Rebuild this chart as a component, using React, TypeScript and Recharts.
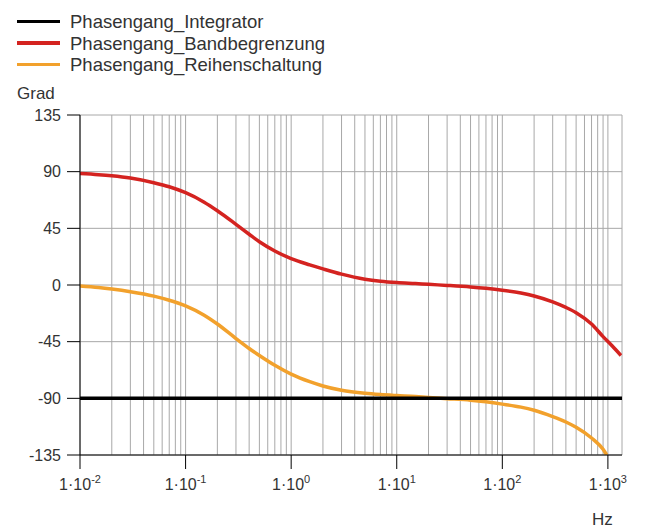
import { LineChart, Line, XAxis, YAxis, CartesianGrid, ReferenceLine } from 'recharts';

// Frequenzen (Hz) und Phasenwerte (Grad)
const freqBand = [0.01, 0.015, 0.02, 0.03, 0.05, 0.07, 0.1, 0.15, 0.2, 0.3, 0.4, 0.5, 0.7, 1, 1.5, 2, 3, 5, 7, 10, 15, 20, 30, 50, 70, 100, 150, 200, 300, 400, 500, 700, 900, 1100, 1330];
const phaseBand = [88.5, 87.6, 86.7, 84.9, 81.2, 78, 73.3, 65.8, 59, 48.2, 40.3, 34.3, 27, 21, 16, 12.8, 8.6, 4.6, 3, 1.9, 1.1, 0.5, -0.3, -1.5, -2.6, -4.1, -6.4, -8.7, -13.4, -17.8, -22, -31, -41, -48.5, -56];

const freqReihe = [0.01, 0.015, 0.02, 0.03, 0.05, 0.07, 0.1, 0.15, 0.2, 0.3, 0.4, 0.5, 0.7, 1, 1.5, 2, 3, 5, 7, 10, 15, 20, 30, 50, 70, 100, 150, 200, 300, 400, 500, 700, 900, 975];
const phaseReihe = [-0.8, -2, -3.2, -5.3, -8.8, -12.1, -16.6, -24, -31, -42.5, -50.4, -56, -63.8, -70.8, -76.8, -80.2, -83.6, -86, -87, -87.8, -88.6, -89.4, -90.3, -91.5, -92.8, -94.6, -97, -99.5, -104.5, -108.8, -113, -121.5, -130.5, -135];

const freqInt = [0.01, 1360];
const phaseInt = [-90, -90];

const seriesNames = ['Phasengang_Integrator', 'Phasengang_Bandbegrenzung', 'Phasengang_Reihenschaltung'];
const seriesColors = ['#000000', '#d42320', '#f2a12c'];

const xTicks = [0.01, 0.1, 1, 10, 100, 1000];
const xTickExp = ['-2', '-1', '0', '1', '2', '3'];
const yTicks = [-135, -90, -45, 0, 45, 90, 135];

const xDomain = [0.01, 1360];
const yDomain = [-135, 135];

const toRows = (fs: number[], ys: number[]) => fs.map((f, i) => ({ f, y: ys[i] }));
const bandData = toRows(freqBand, phaseBand);
const reiheData = toRows(freqReihe, phaseReihe);
const intData = toRows(freqInt, phaseInt);

// log-Gitter: 1..9 je Dekade plus rechter Rand
const gridFreqs: number[] = [];
for (let d = -2; d <= 2; d++) {
  for (let k = 1; k <= 9; k++) gridFreqs.push(Number((k * Math.pow(10, d)).toPrecision(3)));
}
gridFreqs.push(1000, xDomain[1]);

const FONT = '"Liberation Sans", Arial, sans-serif';
const TEXT = '#333';

function FreqTick(props: any) {
  const { x, y, payload } = props;
  const i = xTicks.indexOf(payload.value);
  return (
    <text x={x} y={y + 19} textAnchor="middle" fontFamily={FONT} fontSize={16} fill={TEXT}>
      1·10
      <tspan dy={-7} fontSize={11}>{xTickExp[i]}</tspan>
    </text>
  );
}

export default function App() {
  return (
    <div style={{ position: 'absolute', left: 0, top: 0, width: 648, height: 529, background: '#fff', fontFamily: FONT }}>
      <LineChart width={648} height={529} margin={{ top: 115, right: 26, left: 0, bottom: 0 }}>
        {gridFreqs.map((v) => (
          <ReferenceLine key={v} x={v} stroke="#a8a8a8" strokeWidth={1} />
        ))}
        <CartesianGrid vertical={false} stroke="#a8a8a8" strokeDasharray="" />
        <XAxis
          dataKey="f"
          type="number"
          scale="log"
          domain={xDomain}
          allowDataOverflow
          ticks={xTicks}
          interval={0}
          tick={<FreqTick />}
          tickSize={14}
          height={74}
          axisLine={{ stroke: '#000' }}
          tickLine={{ stroke: '#000' }}
        />
        <YAxis
          type="number"
          domain={yDomain}
          allowDataOverflow
          ticks={yTicks}
          interval={0}
          width={80}
          tickSize={13}
          tickMargin={6}
          tick={{ fontFamily: FONT, fontSize: 16, fill: TEXT }}
          axisLine={{ stroke: '#000' }}
          tickLine={{ stroke: '#000' }}
        />
        <Line data={reiheData} dataKey="y" type="monotone" stroke={seriesColors[2]} strokeWidth={3.5} dot={false} isAnimationActive={false} />
        <Line data={bandData} dataKey="y" type="monotone" stroke={seriesColors[1]} strokeWidth={3.5} dot={false} isAnimationActive={false} />
        <Line data={intData} dataKey="y" type="linear" stroke={seriesColors[0]} strokeWidth={3.5} dot={false} isAnimationActive={false} />
      </LineChart>

      {seriesNames.map((name, i) => (
        <div key={name} style={{ position: 'absolute', left: 17, top: 11 + i * 21.5, height: 21, display: 'flex', alignItems: 'center' }}>
          <div style={{ width: 43, height: 3.5, background: seriesColors[i], marginRight: 10 }} />
          <span style={{ fontSize: 18.5, color: TEXT, lineHeight: '21px' }}>{name}</span>
        </div>
      ))}
      <div style={{ position: 'absolute', left: 17, top: 84, fontSize: 17, color: TEXT }}>Grad</div>
      <div style={{ position: 'absolute', left: 592, top: 510, fontSize: 17, color: TEXT }}>Hz</div>
    </div>
  );
}
